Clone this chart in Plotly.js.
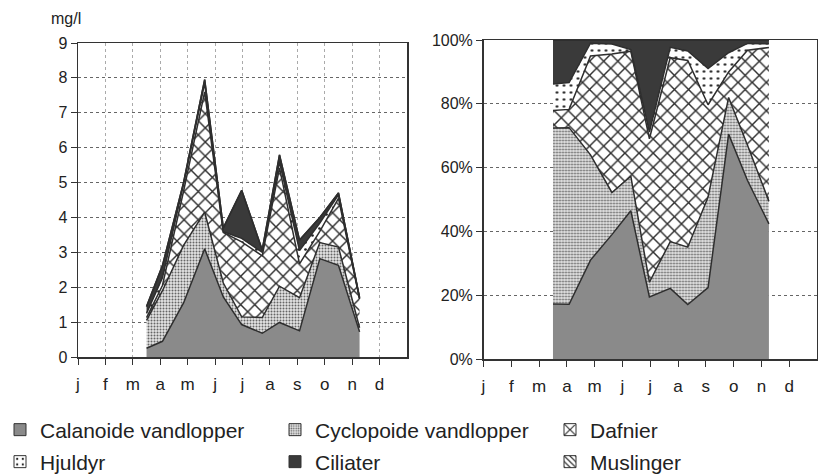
<!DOCTYPE html>
<html>
<head>
<meta charset="utf-8">
<script src="https://cdn.plot.ly/plotly-3.0.1.min.js"></script>
<style>
  html, body { margin:0; padding:0; background:#fff; }
  #plot { width:818px; height:474px; }
</style>
</head>
<body>
<div id="plot"></div>
<script>
(function(){
  // month axis labels (tick at the start of each month)
  const monthLabels = ['j','f','m','a','m','j','j','a','s','o','n','d'];

  // sampling dates as month number (0 = 1 jan)
  const sampleMonth = [2.5, 3.08, 3.85, 4.62, 5.3, 5.97, 6.72, 7.35, 8.08, 8.82, 9.5, 10.27];

  // biomass, mg/l
  const calanoide  = [0.25, 0.45, 1.55, 3.10, 1.72, 0.93, 0.68, 0.99, 0.75, 2.82, 2.63, 0.72];
  const cyclopoide = [0.80, 1.45, 1.65, 1.05, 0.40, 0.22, 0.45, 1.04, 0.95, 0.46, 0.52, 0.12];
  const dafnier    = [0.08, 0.15, 1.55, 3.45, 1.45, 2.15, 1.77, 3.39, 0.97, 0.32, 1.40, 0.82];
  const hjuldyr    = [0.12, 0.22, 0.20, 0.25, 0.02, 0.10, 0.10, 0.17, 0.38, 0.24, 0.10, 0.02];
  const ciliater   = [0.20, 0.35, 0.05, 0.10, 0.11, 1.38, 0.07, 0.20, 0.30, 0.16, 0.05, 0.02];
  const muslinger  = [0, 0, 0, 0, 0, 0, 0, 0, 0, 0, 0, 0];

  const seriesNames = ['Calanoide vandlopper', 'Cyclopoide vandlopper', 'Dafnier',
                       'Hjuldyr', 'Ciliater', 'Muslinger'];
  const seriesValues = [calanoide, cyclopoide, dafnier, hjuldyr, ciliater, muslinger];

  // fill looks, same order as seriesNames
  const looks = [
    { color:'#8a8a8a' },
    { color:'#e4e4e4', pattern:{ shape:'.', fgcolor:'#666666', bgcolor:'#e4e4e4', size:3, solidity:0.35 } },
    { color:'#ffffff', pattern:{ shape:'x', fgcolor:'#2e2e2e', bgcolor:'#ffffff', size:10, solidity:0.27 } },
    { color:'#ffffff', pattern:{ shape:'.', fgcolor:'#222222', bgcolor:'#ffffff', size:7, solidity:0.12 } },
    { color:'#3a3a3a' },
    { color:'#ffffff', pattern:{ shape:'\\', fgcolor:'#333333', bgcolor:'#ffffff', size:5, solidity:0.3 } }
  ];
  const legendCols = [230, 230, 100];

  const edge = { color:'#2e2e2e', width:1.5 };
  const traces = [];

  seriesNames.forEach(function(name, i){
    const lk = looks[i];
    const base = {
      type:'scatter', mode:'lines', name:name,
      x:sampleMonth, y:seriesValues[i],
      line:edge, fillcolor:lk.color,
      showlegend:false, hoverinfo:'skip'
    };
    if (lk.pattern) base.fillpattern = lk.pattern;

    traces.push(Object.assign({}, base, { xaxis:'x', yaxis:'y', stackgroup:'abs' }));

    const pct = Object.assign({}, base, { xaxis:'x2', yaxis:'y2', stackgroup:'pct' });
    if (i === 0) pct.groupnorm = 'percent';
    traces.push(pct);
  });

  // legend entries (square swatches)
  seriesNames.forEach(function(name, i){
    const lk = looks[i];
    const marker = { color:lk.color, line:{ color:'#333', width:1 } };
    if (lk.pattern) marker.pattern = lk.pattern;
    traces.push({
      type:'bar', name:name, x:[null], y:[null], xaxis:'x', yaxis:'y',
      marker:marker, hoverinfo:'skip',
      legend: i < 3 ? 'legend' : 'legend2',
      legendwidth: legendCols[i % 3]
    });
  });

  const W = 818, H = 474;
  const monthTicks = monthLabels.map(function(_, i){ return i; });

  const xCommon = {
    range:[0, 12], tickmode:'array', tickvals:monthTicks, ticktext:monthLabels,
    ticks:'outside', ticklen:6, tickcolor:'#333', tickwidth:1,
    tickfont:{ size:17 }, ticklabelstandoff:5,
    showline:true, mirror:true, linecolor:'#333', linewidth:1.5,
    zeroline:false, fixedrange:true
  };
  const yCommon = {
    ticks:'outside', ticklen:6, tickcolor:'#333', tickwidth:1,
    tickfont:{ size:16 },
    showline:true, mirror:true, linecolor:'#333', linewidth:1.5,
    showgrid:true, gridcolor:'#666', griddash:'dot', gridwidth:1,
    zeroline:false, fixedrange:true
  };

  const layout = {
    width:W, height:H,
    margin:{ l:0, r:0, t:0, b:0, autoexpand:false },
    paper_bgcolor:'#fff', plot_bgcolor:'#fff',
    font:{ family:'Liberation Sans, Arial, sans-serif', color:'#222', size:16 },
    showlegend:true,
    barmode:'overlay',
    xaxis:Object.assign({}, xCommon, {
      domain:[78 / W, 407 / W], anchor:'y',
      showgrid:true, gridcolor:'#aaa', griddash:'dot', gridwidth:1
    }),
    yaxis:Object.assign({}, yCommon, {
      domain:[(H - 357) / H, (H - 43) / H], anchor:'x',
      range:[0, 9], dtick:1
    }),
    xaxis2:Object.assign({}, xCommon, {
      domain:[483.5 / W, 817 / W], anchor:'y2', showgrid:false
    }),
    yaxis2:Object.assign({}, yCommon, {
      domain:[(H - 359) / H, (H - 40) / H], anchor:'x2',
      range:[0, 100], dtick:20, ticksuffix:'%'
    }),
    legend:{
      orientation:'h', x:0, xanchor:'left', y:(H - 430) / H, yanchor:'middle',
      font:{ size:21 }, itemwidth:30, bgcolor:'rgba(0,0,0,0)', traceorder:'normal'
    },
    legend2:{
      orientation:'h', x:0, xanchor:'left', y:(H - 462) / H, yanchor:'middle',
      font:{ size:21 }, itemwidth:30, bgcolor:'rgba(0,0,0,0)', traceorder:'normal'
    },
    annotations:[{
      text:'mg/l', xref:'paper', yref:'paper', x:49 / W, y:(H - 19) / H,
      xanchor:'left', yanchor:'middle', showarrow:false, font:{ size:16 }
    }]
  };

  Plotly.newPlot('plot', traces, layout, { displayModeBar:false, staticPlot:true });
})();
</script>
</body>
</html>
